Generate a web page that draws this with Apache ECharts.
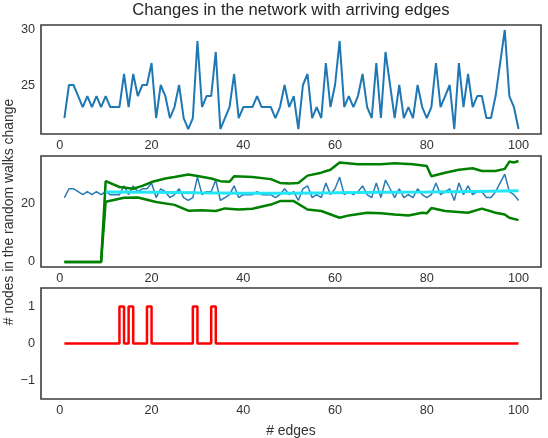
<!DOCTYPE html>
<html>
<head>
<meta charset="utf-8">
<script src="https://cdn.jsdelivr.net/npm/echarts@6/dist/echarts.min.js"></script>
<style>html,body{margin:0;padding:0;background:#fff}#c{width:548px;height:438px}</style>
</head>
<body>
<div id="c"></div>
<script>
// ---- data ----
const nodeChanges = [22,25,25,24,23,24,23,24,23,24, 23,23,23,26,23,26,24,25,25,27,
  22,25,24,22,23,25,22,21,22,29, 23,24,24,28,21,22,23,26,22,23,
  23,23,24,23,23,23,22,23,25,23, 24,21,25,26,22,23,22,27,23,25,
  29,23,24,23,24,26,23,22,27,22, 28,25,22,25,22,23,22,25,23,22,
  23,27,23,24,25,21,27,23,26,23, 24,24,22,22,24,27,30,24,23,21];
const upperX = [1,9,10,13,16,18,20,23,25,28,30,33,35,37,38,42,46,48,50,52,54,57,59,61,65,70,73,77,80,81,84,87,90,92,95,97,98,99,100];
const upperY = [0,0,27.6,25.6,25.0,26.0,27.3,28.5,29.0,29.9,29.4,28.5,27.6,27.4,29.3,29.0,28.3,27.0,26.8,27.0,29.5,30.5,31.5,34.0,33.4,33.4,33.7,33.4,32.8,29.3,30.5,31.5,32.0,31.1,31.1,31.8,34.3,34.0,34.5];
const lowerX = [1,9,10,14,17,21,25,28,31,34,36,39,42,46,48,51,54,57,61,63,67,70,73,76,79,80,81,84,89,92,95,97,98,100];
const lowerY = [0,0,20.6,21.9,22.0,20.5,19.5,17.5,17.7,17.4,18.3,17.9,18.2,19.6,20.8,20.8,17.9,17.4,15.1,15.9,16.8,16.6,16.2,15.9,16.8,16.6,18.4,17.4,16.8,18.2,16.8,16.2,15.1,14.3];
const meanX = [10,20,30,40,50,60,70,80,90,100];
const meanY = [23.9,23.8,23.6,23.5,23.5,23.6,23.8,23.9,24.1,24.3];
const changeEdges = [13,15,19,29,33];
const xTicks = [0,20,40,60,80,100];
const yTicks1 = [25,30];
const yTicks2 = [0,20];
const yTicks3 = [-1,0,1];

// ---- build ----
const edges = nodeChanges.map((v,i)=>i+1);
const pairs = (xs,ys)=>xs.map((x,i)=>[x,ys[i]]);
const topData = edges.map((e,i)=>[e,nodeChanges[i]]);
const redData = edges.map(e=>[e, changeEdges.includes(e)?1:0]);

const FONT = '"Liberation Sans", Arial, sans-serif';
const TXT = '#333';
const lbl = (vals)=>({customValues: vals, color: TXT, fontSize: 12.7, fontFamily: FONT, margin: 6,
  formatter: v => String(v).replace('-', '\u2212')});
const xAx = (gi)=>({type:'value', gridIndex:gi, min:-4.1, max:104.9,
  axisLine:{show:false}, axisTick:{show:false}, splitLine:{show:false},
  axisLabel: Object.assign(lbl(xTicks), {margin:5})});
const yAx = (gi,min,max,ticks)=>({type:'value', gridIndex:gi, min, max,
  axisLine:{show:false}, axisTick:{show:false}, splitLine:{show:false},
  axisLabel: lbl(ticks)});
const gridBase = {left:41, right:7, show:true, borderColor:'#3d3d3d', borderWidth:1.6, backgroundColor:'#fff'};
const line = (xi, data, color, width, extra)=>Object.assign({type:'line', xAxisIndex:xi, yAxisIndex:xi,
  data, showSymbol:false, symbol:'none', silent:true,
  lineStyle:{color, width}, itemStyle:{color}}, extra||{});

const chart = echarts.init(document.getElementById('c'), null, {renderer:'canvas'});
chart.setOption({
  animation:false,
  backgroundColor:'#fff',
  grid:[
    Object.assign({top:25, height:109}, gridBase),
    Object.assign({top:156, height:111}, gridBase),
    Object.assign({top:288, height:111}, gridBase)
  ],
  xAxis:[xAx(0), xAx(1), xAx(2)],
  yAxis:[yAx(0,20.55,30.45,yTicks1), yAx(1,-1.73,36.2,yTicks2), yAx(2,-1.5,1.5,yTicks3)],
  series:[
    line(0, topData, '#1f77b4', 2),
    line(1, topData, '#2a7ab5', 1.5),
    line(1, pairs(upperX,upperY), '#008000', 2.5),
    line(1, pairs(lowerX,lowerY), '#008000', 2.5),
    line(1, pairs(meanX,meanY), '#22e6f6', 3),
    line(2, redData, '#ff0000', 2.5, {step:'end'})
  ],
  graphic:[
    {type:'text', x:291, y:10, style:{text:'Changes in the network with arriving edges', fill:'#262626', fontSize:16.6, fontFamily:FONT, align:'center', verticalAlign:'middle'}},
    {type:'text', x:291, y:431, style:{text:'# edges', fill:TXT, fontSize:13.9, fontFamily:FONT, align:'center', verticalAlign:'middle'}},
    {type:'text', x:9, y:212, rotation:Math.PI/2, style:{text:'# nodes in the random walks change', fill:TXT, fontSize:13.9, fontFamily:FONT, align:'center', verticalAlign:'middle'}}
  ]
});
</script>
</body>
</html>
